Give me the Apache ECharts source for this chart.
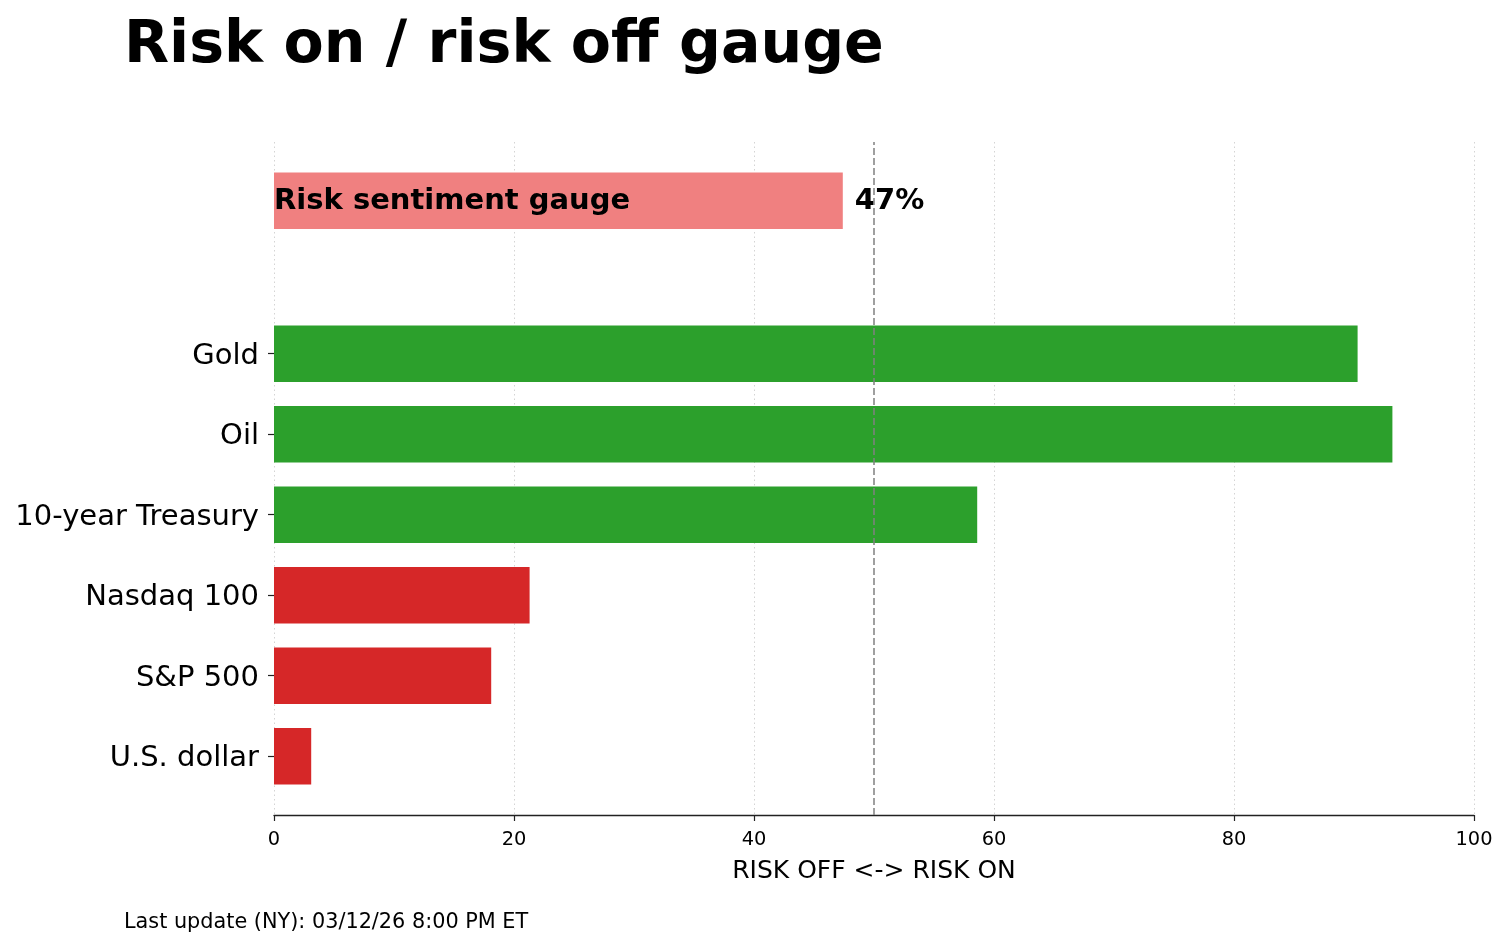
<!DOCTYPE html>
<html>
<head>
<meta charset="utf-8">
<script src="https://cdn.jsdelivr.net/npm/echarts@6/dist/echarts.min.js"></script>
<style>
html,body{margin:0;padding:0;background:#fff;}
#chart{width:1509px;height:946px;}
</style>
</head>
<body>
<div id="chart"></div>
<script>
// ---- data ----
const categories = ['U.S. dollar', 'S&P 500', 'Nasdaq 100', '10-year Treasury', 'Oil', 'Gold'];
const values = [3.1, 18.1, 21.3, 58.6, 93.2, 90.3];
const gaugeName = 'Risk sentiment gauge';
const gaugeValue = 47.4;
const gaugeText = '47%';
const xTicks = [0, 20, 40, 60, 80, 100];
const titleText = 'Risk on / risk off gauge';
const xAxisTitle = 'RISK OFF <-> RISK ON';
const footerText = 'Last update (NY): 03/12/26 8:00 PM ET';

// ---- styling / layout ----
const FONT = 'DejaVu Sans';
const GREEN = '#2ca02c', RED = '#d62728', GAUGE = '#f08080';
const GAUGE_POS = 6.9;
const BAR_H = 0.7;

const chart = echarts.init(document.getElementById('chart'), null, {renderer: 'canvas'});

const barData = values.map((v, i) => [v, i]);

const option = {
  backgroundColor: '#ffffff',
  animation: false,
  title: {
    text: titleText,
    left: 119,
    top: 12,
    textStyle: {fontFamily: FONT, fontWeight: 'bold', fontSize: 58.6, color: '#000'}
  },
  graphic: [{
    type: 'text',
    left: 124,
    top: 912,
    style: {text: footerText, font: '20.8px "DejaVu Sans"', fill: '#000'}
  }],
  grid: {left: 274, right: 35, top: 142, bottom: 131, containLabel: false},
  xAxis: {
    type: 'value',
    min: xTicks[0], max: xTicks[xTicks.length - 1], interval: 20,
    name: xAxisTitle,
    nameLocation: 'middle',
    nameGap: 44,
    nameTextStyle: {fontFamily: FONT, fontSize: 25, color: '#000'},
    axisLine: {show: true, onZero: false, lineStyle: {color: '#222', width: 1.3}},
    axisTick: {show: true, length: 6, lineStyle: {color: '#222', width: 1.2}},
    axisLabel: {fontFamily: FONT, fontSize: 19.4, color: '#000', margin: 15},
    splitLine: {show: true, lineStyle: {color: '#d4d4d4', width: 1, type: [1.5, 3]}}
  },
  yAxis: {
    type: 'value',
    min: -0.73, max: 7.63,
    axisLine: {show: false},
    axisTick: {show: true, length: 6, customValues: categories.map((c, i) => i), lineStyle: {color: '#222', width: 1.2}},
    axisLabel: {
      show: true,
      customValues: categories.map((c, i) => i),
      formatter: v => categories[Math.round(v)] || '',
      fontFamily: FONT, fontSize: 29, color: '#000', margin: 15,
      verticalAlign: 'top',
      lineHeight: 5
    },
    splitLine: {show: false}
  },
  series: [
    {
      type: 'custom',
      name: 'assets',
      encode: {x: 0, y: 1},
      data: barData,
      renderItem: function (params, api) {
        const v = api.value(0), y = api.value(1);
        const s = api.coord([0, y]);
        const e = api.coord([v, y]);
        const h = api.size([0, BAR_H])[1];
        return {
          type: 'rect',
          shape: {x: s[0], y: s[1] - h / 2, width: e[0] - s[0], height: h},
          style: {fill: v >= 50 ? GREEN : RED}
        };
      },
      z: 3
    },
    {
      type: 'custom',
      name: 'gauge',
      encode: {x: 0, y: 1},
      data: [[gaugeValue, GAUGE_POS]],
      renderItem: function (params, api) {
        const v = api.value(0), y = api.value(1);
        const s = api.coord([0, y]);
        const e = api.coord([v, y]);
        const t = api.coord([v + 1, y]);
        const h = api.size([0, BAR_H])[1];
        return {
          type: 'group',
          children: [
            {type: 'rect', shape: {x: s[0], y: s[1] - h / 2, width: e[0] - s[0], height: h}, style: {fill: GAUGE}},
            {type: 'text', x: s[0], y: s[1] + 1, style: {text: gaugeName, font: 'bold 29px "DejaVu Sans"', fill: '#000', align: 'left', verticalAlign: 'middle'}, z2: 10},
            {type: 'text', x: t[0], y: t[1] + 1, style: {text: gaugeText, font: 'bold 29px "DejaVu Sans"', fill: '#000', align: 'left', verticalAlign: 'middle'}, z2: 10}
          ]
        };
      },
      z: 3
    },
    {
      type: 'line',
      name: 'mid',
      data: [],
      markLine: {
        silent: true,
        symbol: 'none',
        label: {show: false},
        lineStyle: {color: '#808080', width: 1.5, type: [7, 3]},
        data: [{xAxis: 50}]
      },
      z: 4
    }
  ]
};
chart.setOption(option);
</script>
</body>
</html>
